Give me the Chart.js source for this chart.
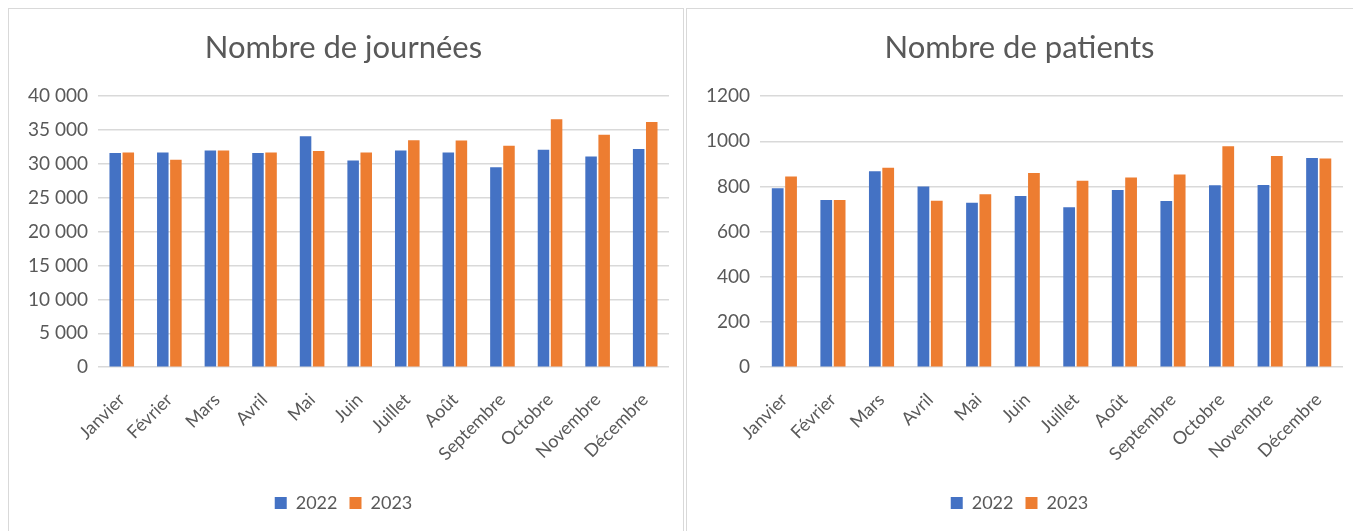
<!DOCTYPE html>
<html>
<head>
<meta charset="utf-8">
<script src="https://cdn.jsdelivr.net/npm/chart.js@4.4.0/dist/chart.umd.min.js"></script>
<style>
    body { margin: 0; background: #ffffff; width: 1353px; height: 531px; overflow: hidden; position: relative; }
    .panel { position: absolute; top: 8px; height: 530px; border: 1px solid #d9d9d9; box-sizing: border-box; background: #fff; }
    #panelLeft { left: 8px; width: 676px; }
    #panelRight { left: 686px; width: 672px; }
</style>
</head>
<body>
<div class="panel" id="panelLeft"><canvas id="chartJournees"></canvas></div>
<div class="panel" id="panelRight"><canvas id="chartPatients"></canvas></div>

<script>
// Data
const months = ['Janvier', 'Février', 'Mars', 'Avril', 'Mai', 'Juin', 'Juillet', 'Août', 'Septembre', 'Octobre', 'Novembre', 'Décembre'];
const seriesYears = ['2022', '2023'];

const journees2022 = [31600, 31700, 32000, 31600, 34100, 30500, 32000, 31700, 29500, 32100, 31100, 32200];
const journees2023 = [31700, 30600, 32000, 31700, 31900, 31700, 33500, 33450, 32700, 36600, 34300, 36200];

const patients2022 = [792, 740, 868, 800, 728, 758, 708, 785, 736, 806, 807, 926];
const patients2023 = [844, 740, 883, 737, 766, 860, 826, 840, 853, 978, 935, 924];

const journeesTicks = { min: 0, max: 40000, step: 5000 };
const patientsTicks = { min: 0, max: 1200, step: 200 };

const colors = ['#4472c4', '#ed7d31'];
const textColor = '#595959';
const fontFamily = 'Lato, "Open Sans", sans-serif';

// Format thousands with a space like Excel (fr)
function frNumber(v) {
    return String(v).replace(/\B(?=(\d{3})+(?!\d))/g, ' ');
}

function createBarChart(canvasId, title, values2022, values2023, ticks, useSeparator) {
    const ctx = document.getElementById(canvasId);
    const parent = ctx.parentElement;
    ctx.width = parent.clientWidth;
    ctx.height = parent.clientHeight;

    return new Chart(ctx, {
        type: 'bar',
        data: {
            labels: months,
            datasets: [
                { label: seriesYears[0], data: values2022, backgroundColor: colors[0], categoryPercentage: 0.55, barPercentage: 0.88 },
                { label: seriesYears[1], data: values2023, backgroundColor: colors[1], categoryPercentage: 0.55, barPercentage: 0.88 }
            ]
        },
        options: {
            responsive: false,
            animation: false,
            devicePixelRatio: 1,
            layout: { padding: { left: 9, right: 14, top: 0, bottom: 15 } },
            plugins: {
                title: {
                    display: true,
                    text: title,
                    color: textColor,
                    font: { family: fontFamily, size: 31, weight: 'normal' },
                    padding: { top: 20, bottom: 30 }
                },
                legend: {
                    position: 'bottom',
                    labels: {
                        color: textColor,
                        font: { family: fontFamily, size: 18 },
                        boxWidth: 12,
                        boxHeight: 12,
                        padding: 12
                    }
                },
                tooltip: { enabled: false }
            },
            scales: {
                x: {
                    grid: { display: false },
                    border: { display: false },
                    ticks: {
                        color: textColor,
                        font: { family: fontFamily, size: 18 },
                        minRotation: 45,
                        maxRotation: 45,
                        padding: 14
                    },
                    // leave empty room under the labels, like the Excel chart
                    afterFit: function(scale) {
                        scale.height += 3;
                    }
                },
                y: {
                    min: ticks.min,
                    max: ticks.max,
                    grid: { color: '#d9d9d9', lineWidth: 1.5, drawTicks: false },
                    border: { display: false },
                    ticks: {
                        stepSize: ticks.step,
                        color: textColor,
                        font: { family: fontFamily, size: 19 },
                        padding: 10,
                        callback: function(value) {
                            return useSeparator ? frNumber(value) : String(value);
                        }
                    }
                }
            }
        }
    });
}

createBarChart('chartJournees', 'Nombre de journées', journees2022, journees2023, journeesTicks, true);
createBarChart('chartPatients', 'Nombre de patients', patients2022, patients2023, patientsTicks, false);
</script>
</body>
</html>
